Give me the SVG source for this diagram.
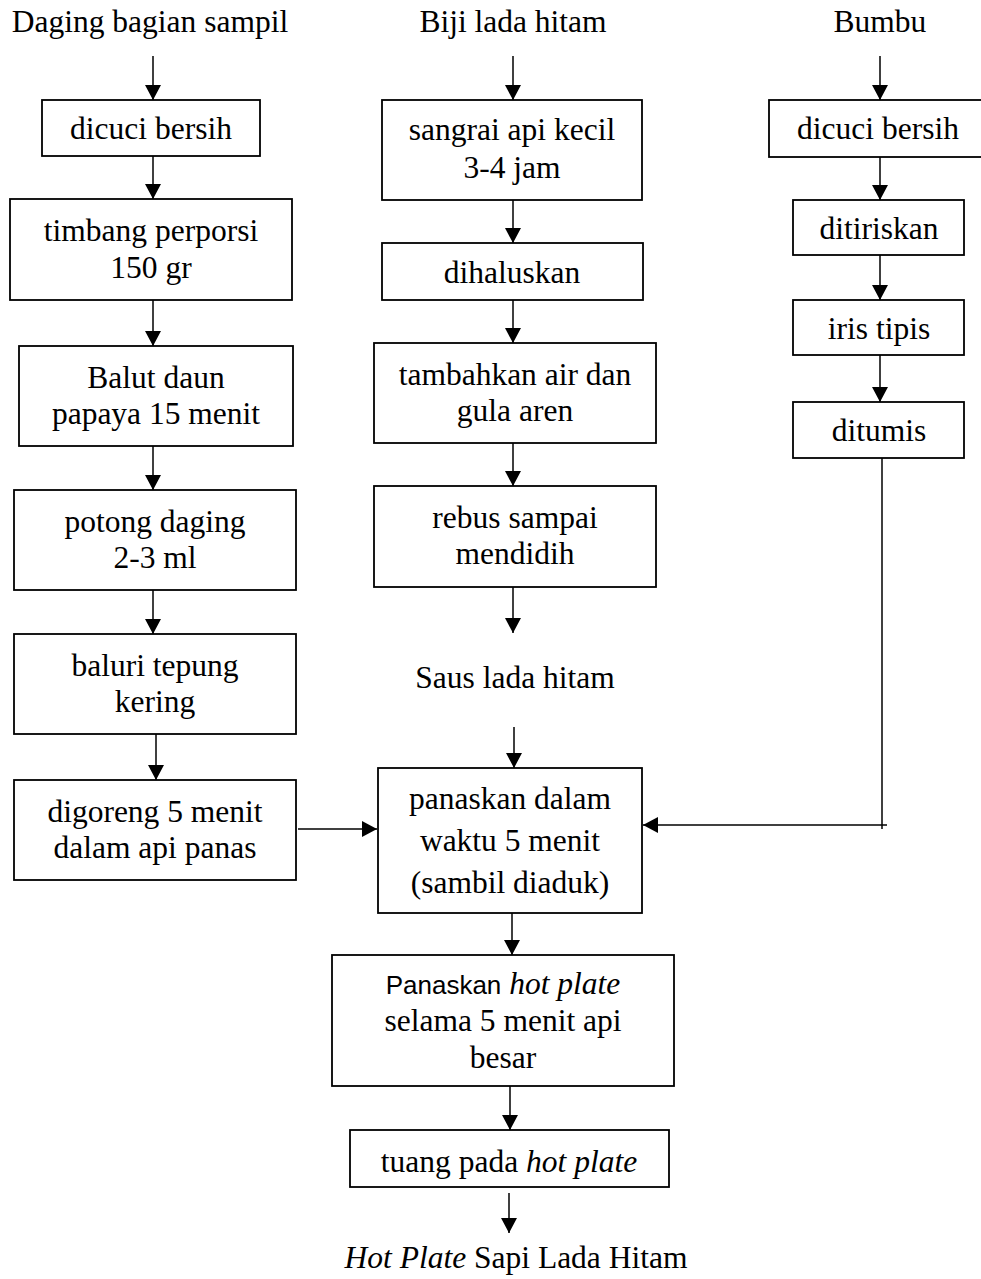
<svg xmlns="http://www.w3.org/2000/svg" width="981" height="1279" viewBox="0 0 981 1279">
<defs>
<style>
.box{fill:#fff;stroke:#000;stroke-width:1.8}
.ln{fill:none;stroke:#000;stroke-width:1.5}
.t{font-family:"Liberation Serif","Times New Roman",serif;font-size:31.5px;text-anchor:middle;fill:#000}
.i{font-style:italic}
.s{font-family:"Liberation Sans",Arial,sans-serif;font-size:26px}
</style>
<marker id="ah" markerUnits="userSpaceOnUse" markerWidth="16" markerHeight="17" refX="15" refY="8" orient="auto">
<path d="M0,0 L15,8 L0,16 Z" fill="#000"/>
</marker>
</defs>
<rect width="981" height="1279" fill="#fff"/>

<g id="connectors">
<line class="ln" x1="153" y1="56" x2="153" y2="100" marker-end="url(#ah)"/>
<line class="ln" x1="153" y1="156" x2="153" y2="199" marker-end="url(#ah)"/>
<line class="ln" x1="153" y1="300" x2="153" y2="346" marker-end="url(#ah)"/>
<line class="ln" x1="153" y1="446" x2="153" y2="490" marker-end="url(#ah)"/>
<line class="ln" x1="153" y1="590" x2="153" y2="634" marker-end="url(#ah)"/>
<line class="ln" x1="156" y1="734" x2="156" y2="780" marker-end="url(#ah)"/>
<line class="ln" x1="298" y1="829" x2="377" y2="829" marker-end="url(#ah)"/>

<line class="ln" x1="513" y1="56" x2="513" y2="100" marker-end="url(#ah)"/>
<line class="ln" x1="513" y1="200" x2="513" y2="243" marker-end="url(#ah)"/>
<line class="ln" x1="513" y1="300" x2="513" y2="343" marker-end="url(#ah)"/>
<line class="ln" x1="513" y1="443" x2="513" y2="486" marker-end="url(#ah)"/>
<line class="ln" x1="513" y1="587" x2="513" y2="633" marker-end="url(#ah)"/>
<line class="ln" x1="514" y1="727" x2="514" y2="768" marker-end="url(#ah)"/>
<line class="ln" x1="512" y1="913" x2="512" y2="955" marker-end="url(#ah)"/>
<line class="ln" x1="510" y1="1086" x2="510" y2="1130" marker-end="url(#ah)"/>
<line class="ln" x1="509" y1="1193" x2="509" y2="1233" marker-end="url(#ah)"/>

<line class="ln" x1="880" y1="56" x2="880" y2="100" marker-end="url(#ah)"/>
<line class="ln" x1="880" y1="157" x2="880" y2="200" marker-end="url(#ah)"/>
<line class="ln" x1="880" y1="255" x2="880" y2="300" marker-end="url(#ah)"/>
<line class="ln" x1="880" y1="355" x2="880" y2="402" marker-end="url(#ah)"/>
<line class="ln" x1="882" y1="458" x2="882" y2="829"/>
<line class="ln" x1="887" y1="825" x2="643" y2="825" marker-end="url(#ah)"/>
</g>

<g id="label-daging"><text class="t" x="150" y="32">Daging bagian sampil</text></g>
<g id="label-biji"><text class="t" x="513" y="32">Biji lada hitam</text></g>
<g id="label-bumbu"><text class="t" x="880" y="32">Bumbu</text></g>

<g id="n-l1"><rect class="box" x="42" y="100" width="218" height="56"/><text class="t" x="151" y="139">dicuci bersih</text></g>
<g id="n-l2"><rect class="box" x="10" y="199" width="282" height="101"/><text class="t" x="151" y="241">timbang perporsi</text><text class="t" x="151" y="278">150 gr</text></g>
<g id="n-l3"><rect class="box" x="19" y="346" width="274" height="100"/><text class="t" x="156" y="388">Balut daun</text><text class="t" x="156" y="424">papaya 15 menit</text></g>
<g id="n-l4"><rect class="box" x="14" y="490" width="282" height="100"/><text class="t" x="155" y="532">potong daging</text><text class="t" x="155" y="568">2-3 ml</text></g>
<g id="n-l5"><rect class="box" x="14" y="634" width="282" height="100"/><text class="t" x="155" y="676">baluri tepung</text><text class="t" x="155" y="712">kering</text></g>
<g id="n-l6"><rect class="box" x="14" y="780" width="282" height="100"/><text class="t" x="155" y="822">digoreng 5 menit</text><text class="t" x="155" y="858">dalam api panas</text></g>

<g id="n-m1"><rect class="box" x="382" y="100" width="260" height="100"/><text class="t" x="512" y="140">sangrai api kecil</text><text class="t" x="512" y="178">3-4 jam</text></g>
<g id="n-m2"><rect class="box" x="382" y="243" width="261" height="57"/><text class="t" x="512" y="283">dihaluskan</text></g>
<g id="n-m3"><rect class="box" x="374" y="343" width="282" height="100"/><text class="t" x="515" y="385">tambahkan air dan</text><text class="t" x="515" y="421">gula aren</text></g>
<g id="n-m4"><rect class="box" x="374" y="486" width="282" height="101"/><text class="t" x="515" y="528">rebus sampai</text><text class="t" x="515" y="564">mendidih</text></g>
<g id="n-saus"><text class="t" x="515" y="688">Saus lada hitam</text></g>
<g id="n-m5"><rect class="box" x="378" y="768" width="264" height="145"/><text class="t" x="510" y="809">panaskan dalam</text><text class="t" x="510" y="851">waktu 5 menit</text><text class="t" x="510" y="893">(sambil diaduk)</text></g>
<g id="n-m6"><rect class="box" x="332" y="955" width="342" height="131"/><text class="t" x="503" y="994"><tspan class="s">Panaskan</tspan> <tspan class="i">hot plate</tspan></text><text class="t" x="503" y="1031">selama 5 menit api</text><text class="t" x="503" y="1068">besar</text></g>
<g id="n-m7"><rect class="box" x="350" y="1130" width="319" height="57"/><text class="t" x="509" y="1172">tuang pada <tspan class="i">hot plate</tspan></text></g>
<g id="n-final"><text class="t" x="516" y="1268"><tspan class="i">Hot Plate</tspan> Sapi Lada Hitam</text></g>

<g id="n-r1"><rect class="box" x="769" y="100" width="220" height="57"/><text class="t" x="878" y="139">dicuci bersih</text></g>
<g id="n-r2"><rect class="box" x="793" y="200" width="171" height="55"/><text class="t" x="879" y="239">ditiriskan</text></g>
<g id="n-r3"><rect class="box" x="793" y="300" width="171" height="55"/><text class="t" x="879" y="339">iris tipis</text></g>
<g id="n-r4"><rect class="box" x="793" y="402" width="171" height="56"/><text class="t" x="879" y="441">ditumis</text></g>
</svg>
